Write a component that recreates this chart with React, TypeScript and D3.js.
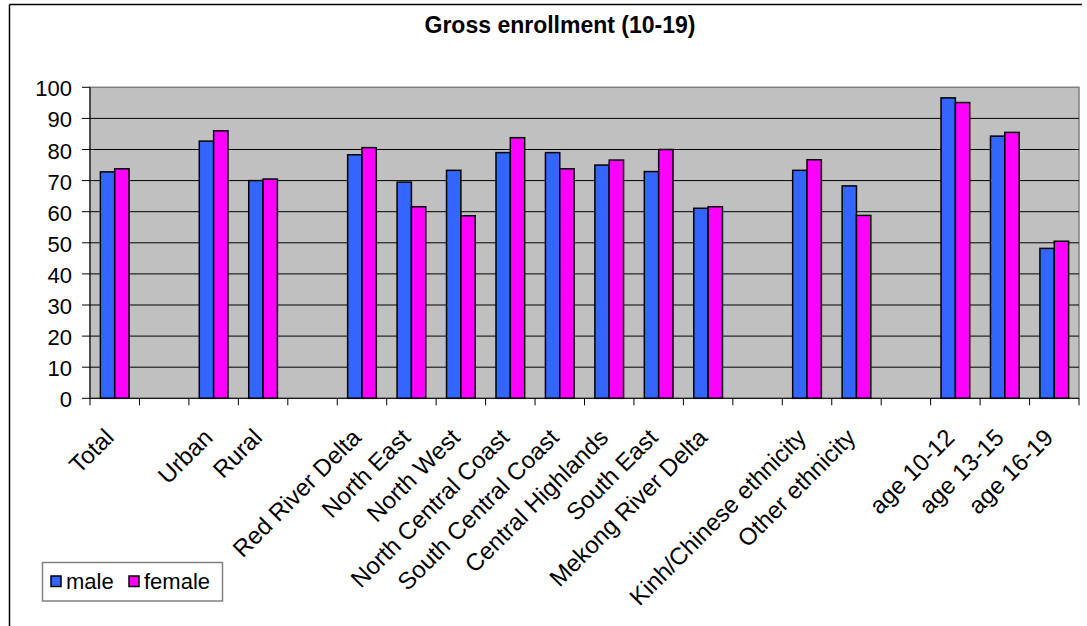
import React from "react";
import * as d3 from "d3";

const categories: string[] = [
  "Total", "", "Urban", "Rural", "", "Red River Delta", "North East", "North West",
  "North Central Coast", "South Central Coast", "Central Highlands", "South East",
  "Mekong River Delta", "", "Kinh/Chinese ethnicity", "Other ethnicity", "",
  "age 10-12", "age 13-15", "age 16-19",
];
const male: (number | null)[] = [
  72.8, null, 82.7, 70.0, null, 78.3, 69.5, 73.3, 79.0, 79.0, 75.0, 72.9, 61.1,
  null, 73.3, 68.3, null, 96.6, 84.3, 48.2,
];
const female: (number | null)[] = [
  73.8, null, 86.0, 70.5, null, 80.6, 61.6, 58.7, 83.8, 73.8, 76.6, 80.0, 61.6,
  null, 76.7, 58.8, null, 95.1, 85.5, 50.5,
];
const yTicks: number[] = [0, 10, 20, 30, 40, 50, 60, 70, 80, 90, 100];
const seriesNames: string[] = ["male", "female"];
const seriesColors: string[] = ["#3366FF", "#FF00FF"];
const title = "Gross enrollment (10-19)";

const W = 1087, H = 626;
const left = 90, right = 1079, top = 87.3, bottom = 398.3;
const FONT = "'Liberation Sans', Arial, sans-serif";

export default function App() {
  const x = d3.scaleBand<number>().domain(categories.map((_, i) => i)).range([left, right]).padding(0);
  const y = d3.scaleLinear().domain([0, 100]).range([bottom, top]);
  const step = x.step();
  const barW = step * 0.29;
  const series = [male, female];

  return (
    <svg width={W} height={H} style={{ position: "absolute", left: 0, top: 0, background: "#fff" }}>
      {/* outer chart border */}
      <line x1={9.5} y1={4.5} x2={1082} y2={4.5} stroke="#000" strokeWidth={1.5} />
      <line x1={9.5} y1={4.5} x2={9.5} y2={H} stroke="#000" strokeWidth={1.5} />

      <text x={560} y={33} textAnchor="middle" fontFamily={FONT} fontWeight="bold" fontSize={23} fill="#000">
        {title}
      </text>

      {/* plot area */}
      <rect x={left} y={top} width={right - left} height={bottom - top} fill="#C0C0C0" stroke="#808080" strokeWidth={1.5} />
      {yTicks.filter((t) => t > 0 && t < 100).map((t) => (
        <line key={t} x1={left} x2={right} y1={y(t)} y2={y(t)} stroke="#000" strokeWidth={1} />
      ))}

      {/* bars */}
      {series.map((vals, s) =>
        vals.map((v, i) =>
          v == null ? null : (
            <rect
              key={`${s}-${i}`}
              x={(x(i) as number) + step / 2 - barW + s * barW}
              y={y(v)}
              width={barW}
              height={y(0) - y(v)}
              fill={seriesColors[s]}
              stroke="#000"
              strokeWidth={1.5}
            />
          )
        )
      )}

      {/* y axis */}
      <line x1={left} x2={left} y1={top} y2={bottom} stroke="#000" strokeWidth={1} />
      {yTicks.map((t) => (
        <g key={t}>
          <line x1={left - 8} x2={left} y1={y(t)} y2={y(t)} stroke="#000" strokeWidth={1} />
          <text x={72} y={y(t) + 1.5} textAnchor="end" dominantBaseline="central" fontFamily={FONT} fontSize={22} fill="#000">
            {t}
          </text>
        </g>
      ))}

      {/* x axis */}
      <line x1={left} x2={right} y1={bottom} y2={bottom} stroke="#000" strokeWidth={1} />
      {d3.range(categories.length + 1).map((i) => (
        <line key={i} x1={left + i * step} x2={left + i * step} y1={bottom} y2={bottom + 7} stroke="#000" strokeWidth={1} />
      ))}
      {categories.map((c, i) =>
        c ? (
          <text
            key={i}
            transform={`translate(${(x(i) as number) + step / 2 + 0.5},439) rotate(-45)`}
            textAnchor="end"
            fontFamily={FONT}
            fontSize={24}
            fill="#000"
          >
            {c}
          </text>
        ) : null
      )}

      {/* legend */}
      <rect x={42.5} y={562.5} width={180} height={38.5} fill="#fff" stroke="#808080" strokeWidth={1.5} />
      {seriesNames.map((n, s) => {
        const ox = s === 0 ? 51 : 129;
        return (
          <g key={n}>
            <rect x={ox} y={576} width={10} height={10.5} fill={seriesColors[s]} stroke="#000" strokeWidth={1.5} />
            <text x={ox + 15} y={588.5} fontFamily={FONT} fontSize={22} fill="#000">
              {n}
            </text>
          </g>
        );
      })}
    </svg>
  );
}
